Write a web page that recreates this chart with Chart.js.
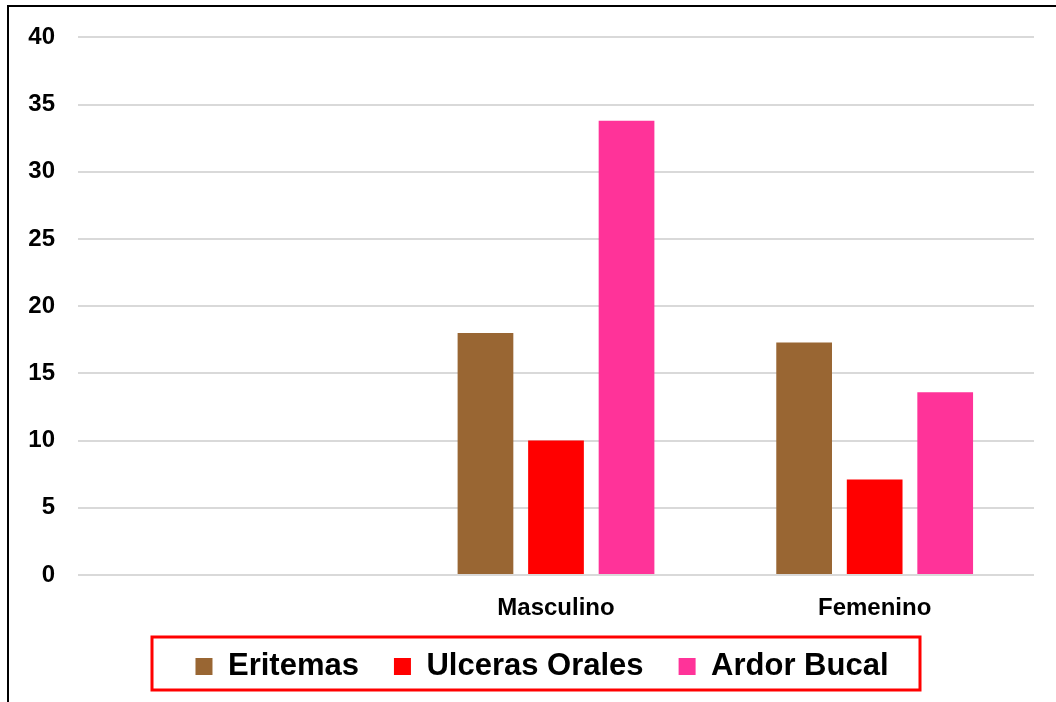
<!DOCTYPE html>
<html>
<head>
<meta charset="utf-8">
<script src="https://cdn.jsdelivr.net/npm/chart.js@4/dist/chart.umd.min.js"></script>
<style>
    body { margin: 0; background: #fff; overflow: hidden; }
    .frame {
        position: absolute; left: 7px; top: 5px;
        width: 1100px; height: 760px;
        border: 2px solid #000;
    }
    .wrap { position: absolute; left: 0; top: 0; width: 1056px; height: 702px; }
</style>
</head>
<body>
<div class="frame"></div>
<div class="wrap"><canvas id="chart" width="1056" height="702"></canvas></div>
<script>
const categories = ['', 'Masculino', 'Femenino'];
const eritemas = [null, 18, 17.3];
const ulceras = [null, 10, 7.1];
const ardor = [null, 33.8, 13.6];
const yTicks = [0, 5, 10, 15, 20, 25, 30, 35, 40];

const font = "'Liberation Sans', Arial, sans-serif";

// nudge the legend into place and frame it with a red box
const legendBox = {
    id: 'legendBox',
    afterLayout(chart) {
        const lg = chart.legend;
        lg.left += 20;
        lg.right += 20;
        lg.top -= 7;
        lg.bottom -= 7;
    },
    afterDraw(chart) {
        const ctx = chart.ctx;
        ctx.save();
        ctx.strokeStyle = '#ff0000';
        ctx.lineWidth = 3;
        ctx.strokeRect(152, 637, 768, 53);
        ctx.restore();
    }
};

const chart = document.querySelector('#chart').getContext('2d');

new Chart(chart, {
    type: 'bar',
    data: {
        labels: categories,
        datasets: [
            { label: 'Eritemas', data: eritemas, backgroundColor: '#996633' },
            { label: 'Ulceras Orales', data: ulceras, backgroundColor: '#ff0000' },
            { label: 'Ardor Bucal', data: ardor, backgroundColor: '#ff3399' }
        ]
    },
    options: {
        responsive: false,
        animation: false,
        datasets: {
            bar: { categoryPercentage: 0.664, barPercentage: 0.79 }
        },
        layout: { padding: { top: 36, right: 22, left: 10, bottom: 3 } },
        plugins: {
            tooltip: { enabled: false },
            legend: {
                position: 'bottom',
                labels: {
                    boxWidth: 17,
                    boxHeight: 17,
                    padding: 35,
                    color: '#000',
                    font: { family: font, size: 31, weight: 'bold' }
                }
            }
        },
        scales: {
            x: {
                grid: { display: false, drawTicks: false },
                border: { display: false },
                afterFit(scale) { scale.height = 48; },
                ticks: {
                    color: '#000',
                    padding: 19,
                    font: { family: font, size: 24, weight: 'bold' }
                }
            },
            y: {
                min: 0,
                max: 40,
                afterBuildTicks(scale) {
                    scale.ticks = yTicks.map(v => ({ value: v }));
                },
                afterFit(scale) { scale.width = 68; },
                grid: { color: '#d9d9d9', lineWidth: 2, drawTicks: false },
                border: { display: false },
                ticks: {
                    color: '#000',
                    padding: 23,
                    font: { family: font, size: 24, weight: 'bold' }
                }
            }
        }
    },
    plugins: [legendBox]
});
</script>
</body>
</html>
